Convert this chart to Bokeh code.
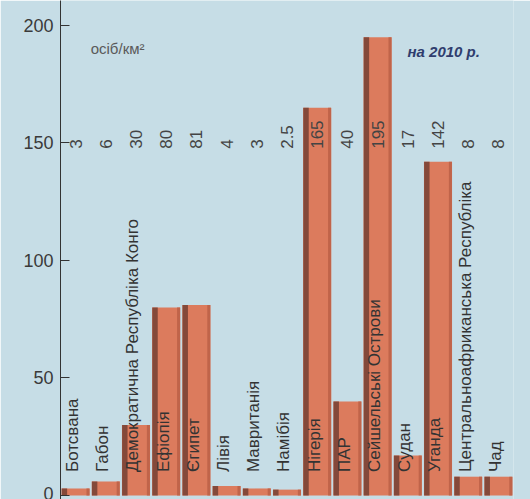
import math
from bokeh.plotting import figure
from bokeh.models import ColumnDataSource
from bokeh.core.properties import value
from bokeh.embed import file_html
from bokeh.resources import INLINE

countries = ["Ботсвана", "Габон", "Демократична Республіка Конго", "Ефіопія", "Єгипет",
             "Лівія", "Мавританія", "Намібія", "Нігерія", "ПАР", "Сейшельські Острови",
             "Судан", "Уганда", "Центральноафриканська Республіка", "Чад"]
density = [3, 6, 30, 80, 81, 4, 3, 2.5, 165, 40, 195, 17, 142, 8, 8]
density_labels = ["3", "6", "30", "80", "81", "4", "3", "2.5", "165", "40", "195", "17", "142", "8", "8"]
y_ticks = [0, 50, 100, 150, 200]
unit_text = "осіб/км²"
year_text = "на 2010 р."

xs = list(range(len(countries)))
src = ColumnDataSource(dict(
    x=xs,
    x_name=[i - 0.1 for i in xs],
    x_edge=[i - 0.37 for i in xs],
    x_right=[i + 0.41 for i in xs],
    top=density,
    name=countries,
    lab=density_labels,
))

BG = "#c6dde6"
p = figure(width=530, height=499, x_range=(-0.5, 14.5), y_range=(-1.7, 210.6),
           output_backend="svg", toolbar_location=None, x_axis_type=None,
           min_border_left=60, min_border_right=17, min_border_top=0, min_border_bottom=0,
           background_fill_color=BG, border_fill_color=BG)
p.outline_line_color = None
p.grid.visible = False

# bars
p.vbar(x="x", top="top", bottom=0, width=0.93, source=src,
       fill_color="#dc7b5d", line_color=None)
p.vbar(x="x_edge", top="top", bottom=0, width=0.18, source=src,
       fill_color="#84493a", line_color=None)
p.vbar(x="x_right", top="top", bottom=0, width=0.1, source=src,
       fill_color="#c0644a", line_color=None)

# value labels
p.text(x="x", y=147.5, text="lab", source=src, angle=math.pi / 2,
       text_align="left", text_baseline="middle",
       text_font=value("Liberation Sans"), text_font_size="17px", text_color="#444444")

# country labels
p.text(x="x_name", y=10.0, text="name", source=src, angle=math.pi / 2,
       text_align="left", text_baseline="middle",
       text_font=value("Liberation Sans"), text_font_size="17px", text_color="#333333")

# annotations
p.text(x=[0.5], y=[190], text=[unit_text], text_align="left", text_baseline="middle",
       text_font=value("Liberation Sans"), text_font_size="15px", text_color="#5a5a5a")
p.text(x=[10.99], y=[189], text=[year_text], text_align="left", text_baseline="middle",
       text_font=value("Liberation Sans"), text_font_size="15px", text_color="#2f3d6e",
       text_font_style="bold italic")

ax = p.yaxis[0]
ax.ticker = y_ticks
ax.major_tick_in = 9
ax.major_tick_out = 0
ax.minor_tick_line_color = None
ax.axis_line_color = "#333333"
ax.major_tick_line_color = "#333333"
ax.major_label_text_font = "Liberation Sans"
ax.major_label_text_font_size = "18px"
ax.major_label_text_color = "#3a3a3a"
ax.major_label_standoff = 7

open("out.html", "w").write(file_html(p, INLINE))
